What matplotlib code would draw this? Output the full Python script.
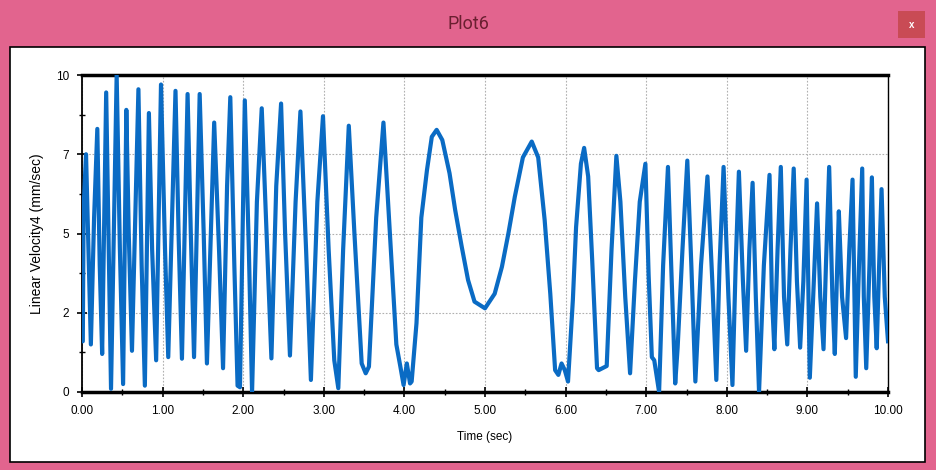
import matplotlib

matplotlib.use("Agg")
import matplotlib.pyplot as plt
from matplotlib.patches import Rectangle
from matplotlib.ticker import FixedLocator, MultipleLocator

time_s = [
    0.00, 0.01, 0.02, 0.05, 0.08, 0.11, 0.15, 0.19, 0.22, 0.25,
    0.30, 0.36, 0.43, 0.47, 0.51, 0.55, 0.58, 0.62, 0.70, 0.74,
    0.78, 0.83, 0.87, 0.92, 0.98, 1.03, 1.07, 1.16, 1.20, 1.24,
    1.31, 1.35, 1.39, 1.46, 1.51, 1.55, 1.64, 1.70, 1.75, 1.80,
    1.84, 1.89, 1.93, 1.96, 2.02, 2.07, 2.11, 2.17, 2.23, 2.29,
    2.35, 2.41, 2.47, 2.52, 2.58, 2.65, 2.71, 2.78, 2.84, 2.92,
    2.99, 3.06, 3.13, 3.18, 3.24, 3.31, 3.38, 3.47, 3.52, 3.56,
    3.65, 3.74, 3.82, 3.90, 3.95, 3.99, 4.03, 4.07, 4.09, 4.15,
    4.21, 4.28, 4.34, 4.40, 4.47, 4.56, 4.63, 4.71, 4.79, 4.87,
    5.00, 5.12, 5.21, 5.29, 5.37, 5.47, 5.58, 5.66, 5.74, 5.81,
    5.87, 5.91, 5.95, 5.99, 6.03, 6.09, 6.13, 6.19, 6.23, 6.28,
    6.33, 6.39, 6.41, 6.51, 6.57, 6.63, 6.68, 6.74, 6.80, 6.86,
    6.92, 6.99, 7.03, 7.07, 7.10, 7.16, 7.21, 7.27, 7.31, 7.36,
    7.39, 7.45, 7.51, 7.56, 7.61, 7.68, 7.76, 7.82, 7.87, 7.91,
    7.96, 8.02, 8.07, 8.11, 8.15, 8.20, 8.24, 8.28, 8.32, 8.36,
    8.40, 8.46, 8.53, 8.56, 8.59, 8.63, 8.67, 8.71, 8.75, 8.79,
    8.83, 8.87, 8.91, 8.95, 8.99, 9.03, 9.08, 9.12, 9.16, 9.20,
    9.23, 9.27, 9.31, 9.34, 9.37, 9.39, 9.43, 9.48, 9.52, 9.56,
    9.60, 9.64, 9.68, 9.70, 9.73, 9.77, 9.80, 9.83, 9.86, 9.89,
    9.92, 9.96, 10.00,
]
velocity = [
    1.60, 1.60, 5.80, 7.50, 4.50, 1.50, 5.50, 8.30, 4.00, 1.20,
    9.45, 0.10, 10.00, 4.50, 0.25, 8.90, 5.00, 1.30, 9.55, 4.00,
    0.20, 8.80, 4.50, 1.00, 9.70, 4.50, 1.10, 9.50, 4.80, 1.05,
    9.40, 5.00, 1.10, 9.40, 5.00, 0.90, 8.50, 4.50, 0.75, 6.50,
    9.30, 4.00, 0.20, 0.15, 9.20, 4.50, 0.00, 6.00, 8.95, 5.00,
    1.06, 6.50, 9.10, 5.00, 1.15, 6.00, 8.85, 4.50, 0.38, 6.00,
    8.70, 4.50, 1.00, 0.12, 4.50, 8.40, 5.00, 0.90, 0.59, 0.80,
    5.50, 8.50, 5.00, 1.50, 0.80, 0.22, 0.90, 0.27, 0.33, 2.17,
    5.50, 7.00, 8.05, 8.27, 7.95, 6.90, 5.74, 4.60, 3.53, 2.85,
    2.64, 3.10, 3.95, 5.00, 6.16, 7.40, 7.90, 7.40, 5.43, 3.10,
    0.69, 0.54, 0.90, 0.69, 0.33, 2.90, 5.20, 7.20, 7.70, 6.80,
    4.16, 0.75, 0.69, 0.82, 4.50, 7.45, 6.00, 3.00, 0.59, 3.50,
    6.00, 7.20, 3.70, 1.10, 1.00, 0.00, 4.00, 7.10, 4.00, 0.27,
    1.40, 4.50, 7.30, 4.00, 0.33, 4.00, 6.80, 3.50, 0.38, 4.00,
    7.10, 3.00, 0.22, 4.00, 6.95, 3.50, 1.30, 4.50, 6.60, 3.00,
    0.00, 4.00, 6.85, 3.00, 1.35, 4.50, 7.10, 3.00, 1.50, 4.50,
    7.05, 3.50, 1.40, 3.50, 6.70, 0.45, 3.50, 5.95, 3.00, 1.35,
    4.00, 7.10, 3.00, 1.20, 4.00, 5.70, 3.00, 1.70, 4.50, 6.70,
    0.48, 4.00, 7.05, 3.00, 0.75, 4.00, 6.77, 3.00, 1.38, 4.00,
    6.40, 3.00, 1.60,
]

x_ticks = [0, 1, 2, 3, 4, 5, 6, 7, 8, 9, 10]
x_tick_labels = ["0.00", "1.00", "2.00", "3.00", "4.00", "5.00",
                 "6.00", "7.00", "8.00", "9.00", "10.00"]
y_ticks = [0, 2.5, 5, 7.5, 10]
y_tick_labels = ["0", "2", "5", "7", "10"]

WIDTH, HEIGHT = 937, 470
PINK = "#e2648e"
LINE_BLUE = "#0a6bc4"


def px_rect(x0, y0, x1, y1):
    """Convert a pixel box (top-left origin) to figure-fraction rectangle args."""
    return (x0 / WIDTH, 1 - y1 / HEIGHT), (x1 - x0) / WIDTH, (y1 - y0) / HEIGHT


def main() -> None:
    plt.rcParams["font.family"] = ["Liberation Sans", "DejaVu Sans"]
    figure = plt.figure(figsize=(WIDTH / 100, HEIGHT / 100), dpi=100)
    figure.patch.set_facecolor(PINK)

    # white client area of the window (drawn below the axes)
    xy, w, h = px_rect(10, 47, 925, 462)
    figure.patches.append(
        Rectangle(xy, w, h, transform=figure.transFigure, facecolor="white",
                  edgecolor="black", linewidth=1.2, zorder=-1)
    )
    # close button
    xy, w, h = px_rect(898, 11, 925, 38)
    figure.patches.append(
        Rectangle(xy, w, h, transform=figure.transFigure, facecolor="#c94b55",
                  edgecolor="none", zorder=-1)
    )
    figure.text(911.5 / WIDTH, 1 - 24.5 / HEIGHT, "x", color="white",
                fontsize=7, fontweight="bold", ha="center", va="center")
    figure.text(468 / WIDTH, 1 - 24 / HEIGHT, "Plot6", color="#6a1f30",
                fontsize=13, ha="center", va="center", family="Roboto")

    left, right, top, bottom = 82, 888, 75, 392
    axis = figure.add_axes([left / WIDTH, 1 - bottom / HEIGHT,
                            (right - left) / WIDTH, (bottom - top) / HEIGHT])
    axis.set_facecolor("white")

    axis.plot(time_s, velocity, color=LINE_BLUE, linewidth=3.0,
              solid_joinstyle="round", zorder=3)

    axis.set_xlim(0, 10)
    axis.set_ylim(0, 10)
    axis.xaxis.set_major_locator(FixedLocator(x_ticks))
    axis.set_xticklabels(x_tick_labels)
    axis.xaxis.set_minor_locator(MultipleLocator(0.5))
    axis.yaxis.set_major_locator(FixedLocator(y_ticks))
    axis.set_yticklabels(y_tick_labels)
    axis.yaxis.set_minor_locator(MultipleLocator(1.25))

    axis.tick_params(which="major", direction="inout", length=7, width=1.2,
                     labelsize=8.5, pad=6, color="black")
    axis.tick_params(which="minor", direction="inout", length=5, width=1.0,
                     color="black")
    axis.grid(which="major", color="#b0b0b0", linestyle=(0, (1.5, 1.5)),
              linewidth=0.8)

    axis.spines["top"].set_linewidth(2.5)
    axis.spines["bottom"].set_linewidth(2.5)
    axis.spines["left"].set_linewidth(1.3)
    axis.spines["right"].set_linewidth(1.0)

    axis.set_xlabel("Time (sec)", fontsize=8.5, labelpad=10)
    axis.set_ylabel("Linear Velocity4 (mm/sec)", fontsize=10, labelpad=8)

    figure.savefig("out.png", dpi=100, facecolor=figure.get_facecolor())


if __name__ == "__main__":
    main()
